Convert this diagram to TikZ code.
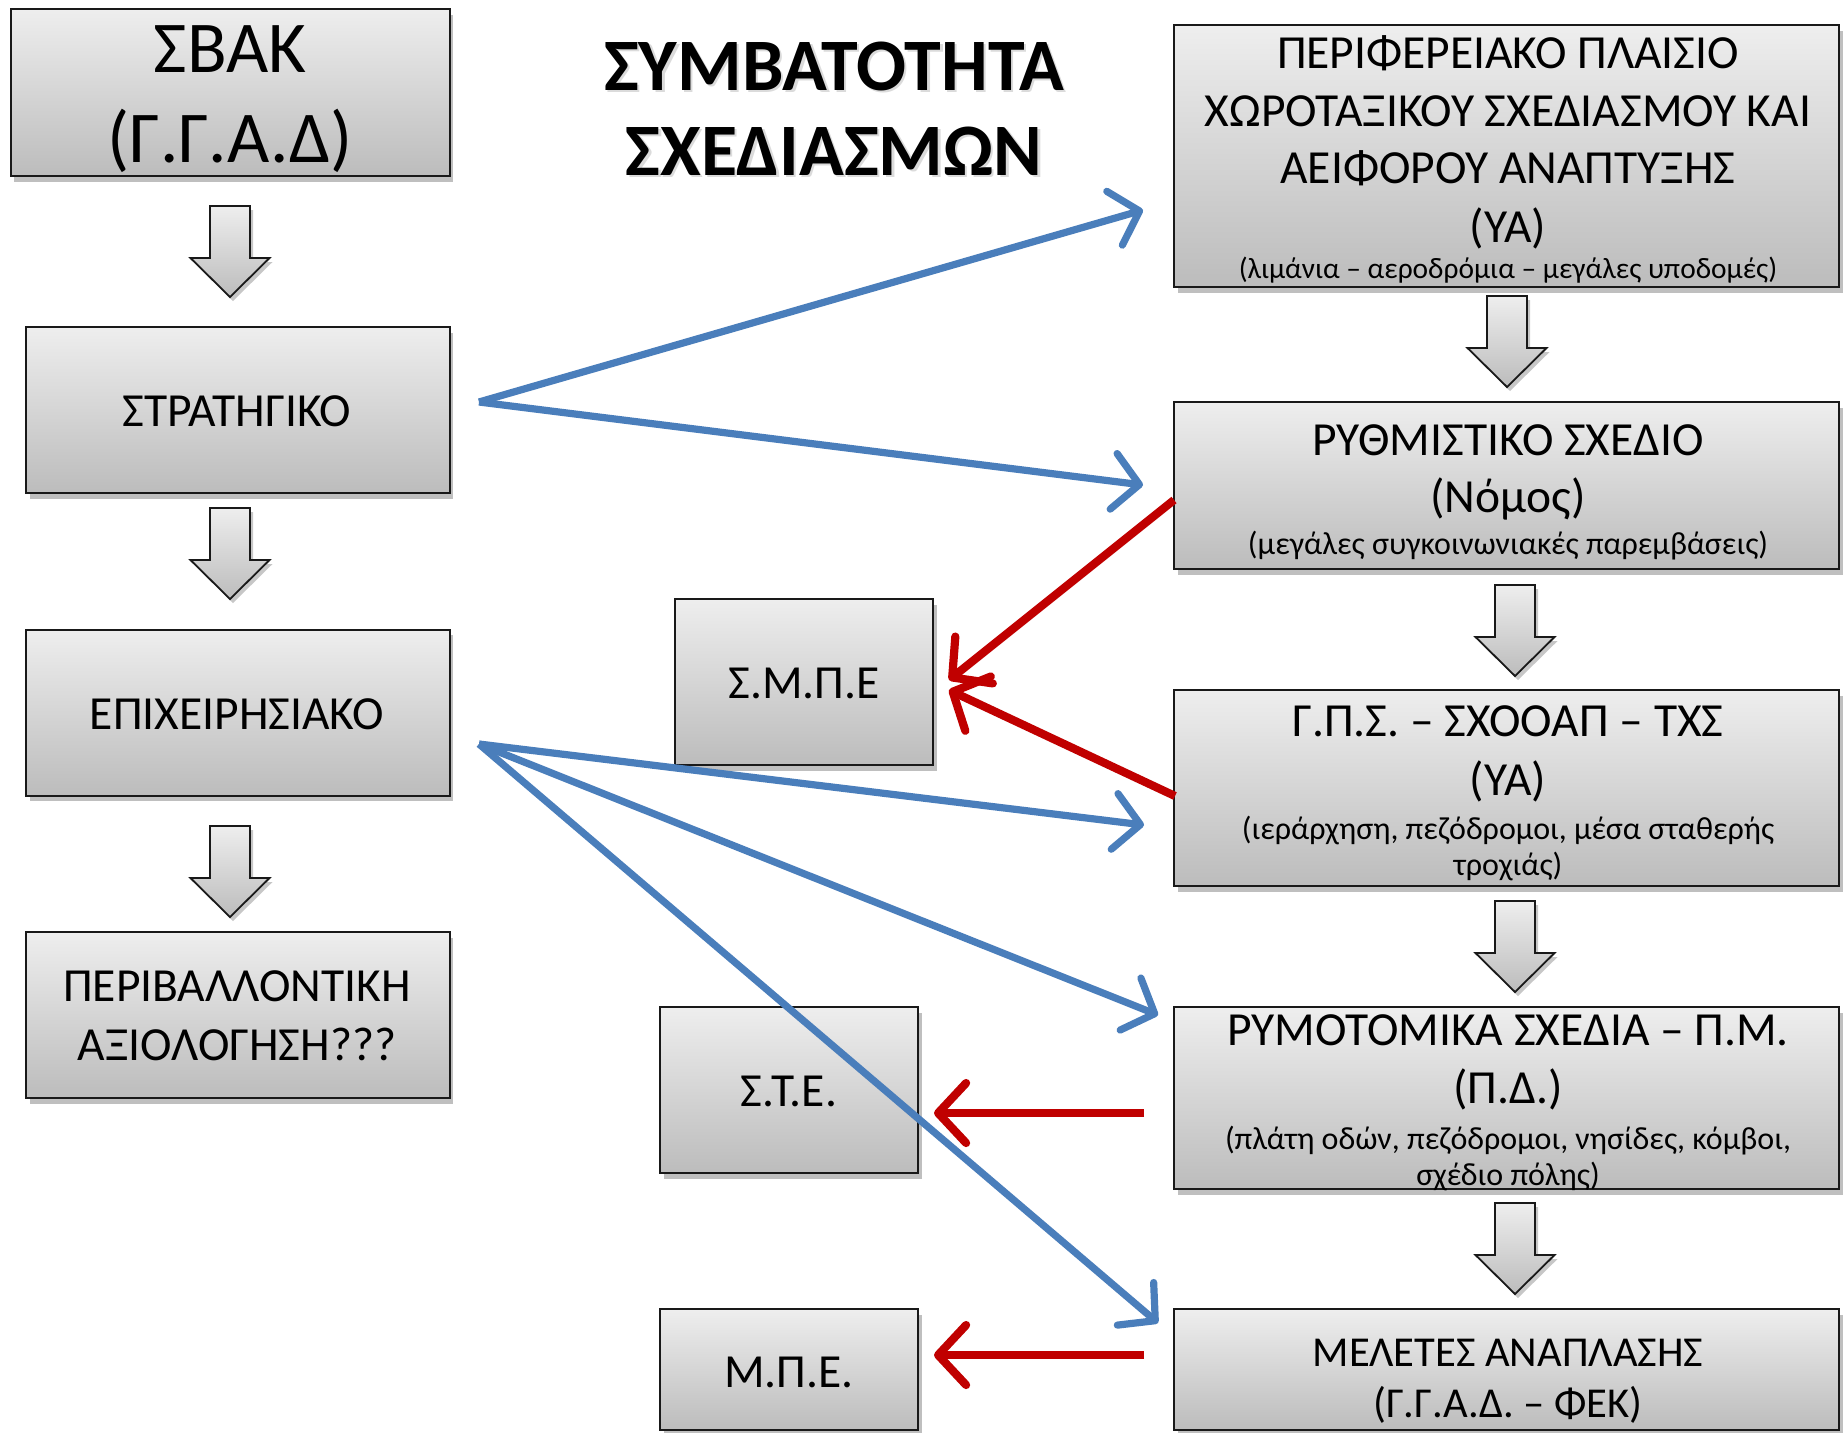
\documentclass[tikz,border=0pt]{standalone}
\usepackage{fontspec}
\setmainfont{Carlito}
\usetikzlibrary{arrows.meta,shadows,calc}
\definecolor{blueA}{RGB}{74,126,187}
\definecolor{redA}{RGB}{192,0,0}
\definecolor{boxTop}{RGB}{238,238,238}
\definecolor{boxBot}{RGB}{188,188,188}
\tikzset{
  box/.style={rectangle, draw=black!90, line width=1pt, top color=boxTop, bottom color=boxBot,
    inner sep=0pt, drop shadow={shadow xshift=1.8pt, shadow yshift=-2.8pt, opacity=0.25, fill=black}},
  txt/.style={inner sep=0pt, anchor=base},
  huge/.style={font=\fontsize{36.5}{45}\selectfont},
  big/.style={font=\fontsize{23.75}{29}\selectfont},
  bigb/.style={font=\fontsize{21.3}{26}\selectfont},
  small/.style={font=\fontsize{16}{19}\selectfont},
  smallb/.style={font=\fontsize{14.7}{18}\selectfont},
  ttl/.style={font=\fontsize{37}{44}\selectfont\bfseries},
  bluearrow/.style={draw=blueA, line width=3.6pt, -{Straight Barb[length=13pt,width=28pt,round]}},
  redarrow/.style={draw=redA, line width=4.1pt, -{Straight Barb[length=14pt,width=30pt,round]}},
  blockarrow/.style={draw=black!90, line width=0.9pt, top color=boxTop, bottom color=boxBot,
    line join=miter, drop shadow={shadow xshift=1.5pt, shadow yshift=-2pt, opacity=0.22, fill=black}}
}
\newcommand{\blockdown}[2]{%
  \draw[blockarrow] ({#1-20},{#2}) -- ({#1+20},{#2}) -- ({#1+20},{#2+52}) -- ({#1+39.5},{#2+52})
    -- ({#1},{#2+91}) -- ({#1-39.5},{#2+52}) -- ({#1-20},{#2+52}) -- cycle;}
\begin{document}
\begin{tikzpicture}[x=0.5pt,y=-0.5pt]
\fill[white] (0,0) rectangle (1845,1432);
\useasboundingbox (0,0) rectangle (1845,1432);

% left column boxes
\node[box, minimum width=219.5pt, minimum height=83.5pt] (sbak) at (230,92.5) {};
\node[box, minimum width=211.75pt, minimum height=83pt] (strat) at (237.75,410) {};
\node[box, minimum width=211.75pt, minimum height=83pt] (epix) at (237.75,712.5) {};
\node[box, minimum width=211.75pt, minimum height=83pt] (perib) at (237.75,1015) {};

% right column boxes
\node[box, minimum width=332.5pt, minimum height=131pt] (r1) at (1506.5,156) {};
\node[box, minimum width=332.5pt, minimum height=83.5pt] (r2) at (1506.5,485.5) {};
\node[box, minimum width=332.5pt, minimum height=98pt] (r3) at (1506.5,788) {};
\node[box, minimum width=332.5pt, minimum height=91pt] (r4) at (1506.5,1098) {};
\node[box, minimum width=332.5pt, minimum height=60.5pt] (r5) at (1506.5,1369.5) {};

% middle boxes
\node[box, minimum width=129pt, minimum height=83pt] (smpe) at (804,682) {};
\node[box, minimum width=129pt, minimum height=83pt] (ste) at (789,1090) {};
\node[box, minimum width=129pt, minimum height=60.5pt] (mpe) at (789,1369.5) {};

% block arrows
\blockdown{230}{206}
\blockdown{230}{508}
\blockdown{230}{826}
\blockdown{1507}{296}
\blockdown{1515}{585}
\blockdown{1515}{901}
\blockdown{1515}{1203}

% texts left
\node[txt, huge] (sbak1) at (230,72) {ΣΒΑΚ};
\node[txt, huge] (sbak2) at (230,162) {(Γ.Γ.Α.Δ)};
\node[txt, big] (strat1) at (237,426) {ΣΤΡΑΤΗΓΙΚΟ};
\node[txt, big] (epix1) at (237,729) {ΕΠΙΧΕΙΡΗΣΙΑΚΟ};
\node[txt, big] (perib1) at (237,1001) {ΠΕΡΙΒΑΛΛΟΝΤΙΚΗ};
\node[txt, big] (perib2) at (237,1060) {ΑΞΙΟΛΟΓΗΣΗ???};

% title (soft shadow + text)
\node[txt, ttl, text=black!40, opacity=0.35] (ttlsh1) at (836.5,92.5) {ΣΥΜΒΑΤΟΤΗΤΑ};
\node[txt, ttl, text=black!40, opacity=0.35] (ttlsh2) at (836.5,177.5) {ΣΧΕΔΙΑΣΜΩΝ};
\node[txt, ttl] (ttl1) at (834,90) {ΣΥΜΒΑΤΟΤΗΤΑ};
\node[txt, ttl] (ttl2) at (834,175) {ΣΧΕΔΙΑΣΜΩΝ};

% texts right
\node[txt, big] (r1a) at (1508,68) {ΠΕΡΙΦΕΡΕΙΑΚΟ ΠΛΑΙΣΙΟ};
\node[txt, big] (r1b) at (1508,126) {ΧΩΡΟΤΑΞΙΚΟΥ ΣΧΕΔΙΑΣΜΟΥ ΚΑΙ};
\node[txt, big] (r1c) at (1508,183) {ΑΕΙΦΟΡΟΥ ΑΝΑΠΤΥΞΗΣ};
\node[txt, big] (r1d) at (1508,242) {(ΥΑ)};
\node[txt, smallb] (r1e) at (1508,278) {(λιμάνια – αεροδρόμια – μεγάλες υποδομές)};

\node[txt, big] (r2a) at (1508,455) {ΡΥΘΜΙΣΤΙΚΟ ΣΧΕΔΙΟ};
\node[txt, big] (r2b) at (1508,512) {(Νόμος)};
\node[txt, small] (r2c) at (1508,554) {(μεγάλες συγκοινωνιακές παρεμβάσεις)};

\node[txt, big] (r3a) at (1508,736) {Γ.Π.Σ. – ΣΧΟΟΑΠ – ΤΧΣ};
\node[txt, big] (r3b) at (1508,795) {(ΥΑ)};
\node[txt, small] (r3c) at (1508,839) {(ιεράρχηση, πεζόδρομοι, μέσα σταθερής};
\node[txt, small] (r3d) at (1508,875) {τροχιάς)};

\node[txt, big] (r4a) at (1508,1045) {ΡΥΜΟΤΟΜΙΚΑ ΣΧΕΔΙΑ – Π.Μ.};
\node[txt, big] (r4b) at (1508,1103) {(Π.Δ.)};
\node[txt, small] (r4c) at (1508,1149) {(πλάτη οδών, πεζόδρομοι, νησίδες, κόμβοι,};
\node[txt, small] (r4d) at (1508,1185) {σχέδιο πόλης)};

\node[txt, bigb] (r5a) at (1508,1366) {ΜΕΛΕΤΕΣ ΑΝΑΠΛΑΣΗΣ};
\node[txt, bigb] (r5b) at (1508,1417) {(Γ.Γ.Α.Δ. – ΦΕΚ)};

% texts middle
\node[txt, big] (smpe1) at (804,698) {Σ.Μ.Π.Ε};
\node[txt, big] (ste1) at (789,1106) {Σ.Τ.Ε.};
\node[txt, big] (mpe1) at (789,1387) {Μ.Π.Ε.};

% connector end points
\coordinate (o1) at (479,402);
\coordinate (o2) at (479,744);
\coordinate (t1) at (1143,210);
\coordinate (t2) at (1143,485);
\coordinate (t3) at (1144,825);
\coordinate (t4) at (1158,1015);
\coordinate (t5) at (1158,1323);
\coordinate (s1) at (1174,500);
\coordinate (s2) at (1175,796);
\coordinate (e1) at (949,680);
\coordinate (e2) at (949,690);
\coordinate (s3) at (1144,1113);
\coordinate (e3) at (934,1113);
\coordinate (s4) at (1144,1355);
\coordinate (e4) at (934,1355);

% blue arrows
\draw[bluearrow] (o1) -- (t1);
\draw[bluearrow] (o1) -- (t2);
\draw[bluearrow] (o2) -- (t3);
\draw[bluearrow] (o2) -- (t4);
\draw[bluearrow] (o2) -- (t5);

% red arrows
\draw[redarrow] (s1) -- (e1);
\draw[redarrow] (s2) -- (e2);
\draw[redarrow] (s3) -- (e3);
\draw[redarrow] (s4) -- (e4);
\end{tikzpicture}
\end{document}
